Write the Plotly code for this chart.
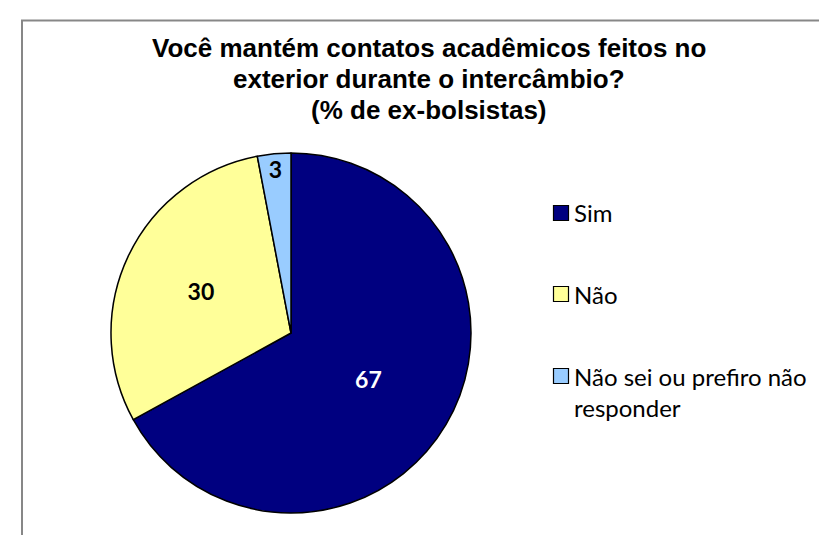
import plotly.graph_objects as go

# ---- data ----
categories = ["Sim", "Não", "Não sei ou prefiro não responder"]
legend_text = ["Sim", "Não", "Não sei ou prefiro não<br>responder"]
values = [67, 30, 3]
colors = ["#000080", "#FFFF99", "#99CCFF"]
label_colors = ["#FFFFFF", "#000000", "#000000"]
title_lines = ["Você mantém contatos acadêmicos feitos no",
               "exterior durante o intercâmbio?",
               "(% de ex-bolsistas)"]

W, H = 827, 535

def px(x):
    return x / W

def py(y):
    return 1 - y / H

fig = go.Figure()
fig.add_trace(go.Pie(
    labels=categories,
    values=values,
    sort=False,
    direction="clockwise",
    rotation=0,
    marker=dict(colors=colors, line=dict(color="#000000", width=1.5)),
    texttemplate="<b>%{value}</b>",
    textposition="inside",
    insidetextorientation="horizontal",
    textfont=dict(family="Lato", size=23, color=label_colors),
    domain=dict(x=[px(103), px(463)], y=[py(505), py(145)]),
    showlegend=False,
    hoverinfo="label+value",
))

# frame
fig.add_shape(type="rect", xref="paper", yref="paper",
              x0=px(14), x1=px(W + 10), y0=py(H + 10), y1=py(12.5),
              line=dict(color="#878787", width=2), fillcolor="rgba(0,0,0,0)")

# manual legend
legend_size = 24
legend_y = [205, 286, 368]
for i, (txt, col) in enumerate(zip(legend_text, colors)):
    yc = legend_y[i]
    nlines = txt.count("<br>") + 1
    fig.add_shape(type="rect", xref="paper", yref="paper",
                  x0=px(545.5), x1=px(560.5), y0=py(yc + 7.5), y1=py(yc - 7.5),
                  line=dict(color="#000000", width=1.2), fillcolor=col)
    fig.add_annotation(xref="paper", yref="paper", x=px(564),
                       y=py(yc + (nlines - 1) * legend_size * 1.3 / 2),
                       xanchor="left", yanchor="middle", align="left",
                       text=txt, showarrow=False,
                       font=dict(family="Lato", size=legend_size, color="#000000"))

# title (one line per annotation to keep the tight line spacing)
title_y = [39.5, 71, 102]
for line, yy in zip(title_lines, title_y):
    fig.add_annotation(xref="paper", yref="paper", x=px(421), y=py(yy),
                       xanchor="center", yanchor="middle",
                       text="<b>" + line + "</b>", showarrow=False,
                       font=dict(family="Liberation Sans", size=26, color="#000000"))

fig.update_layout(
    width=W, height=H,
    margin=dict(l=0, r=0, t=0, b=0),
    paper_bgcolor="#FFFFFF",
    plot_bgcolor="#FFFFFF",
    uniformtext=dict(minsize=23, mode="show"),
)

fig.write_html("out.html")
